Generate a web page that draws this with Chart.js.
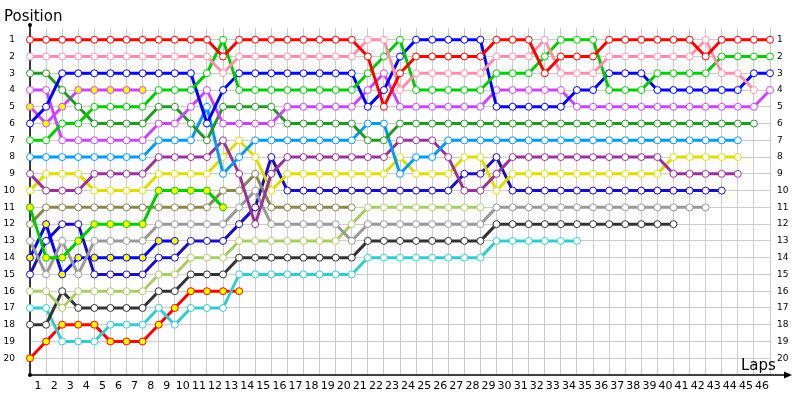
<!DOCTYPE html>
<html>
<head>
<meta charset="utf-8">
<script src="https://cdn.jsdelivr.net/npm/chart.js@4/dist/chart.umd.min.js"></script>
<style>
  html, body { margin: 0; padding: 0; background: #fff; }
  #wrap { width: 800px; height: 400px; }
</style>
</head>
<body>
<div id="wrap"><canvas id="lapChart"></canvas></div>
<script>
// Voltas (eixo x) e posições (eixo y)
const laps = [0,1,2,3,4,5,6,7,8,9,10,11,12,13,14,15,16,17,18,19,20,21,22,23,24,25,26,27,28,29,30,31,32,33,34,35,36,37,38,39,40,41,42,43,44,45,46];
const positions = [1,2,3,4,5,6,7,8,9,10,11,12,13,14,15,16,17,18,19,20];

// Posição de cada piloto por volta (índice = volta)
const red        = [1,1,1,1,1,1,1,1,1,1,1,1,2,1,1,1,1,1,1,1,1,2,5,3,2,2,2,2,2,1,1,1,3,2,2,2,1,1,1,1,1,1,2,1,1,1,1];
const pink       = [2,2,2,2,2,2,2,2,2,2,2,2,3,2,2,2,2,2,2,2,2,1,1,4,3,3,3,3,3,2,2,2,1,3,3,3,2,2,2,2,2,2,1,3,3,4];
const green      = [7,7,6,6,5,5,5,5,4,4,4,3,1,4,4,4,4,4,4,4,4,3,2,1,4,4,4,4,4,3,3,3,2,1,1,1,4,4,4,3,3,3,3,2,2,2,2];
const blue       = [6,5,3,3,3,3,3,3,3,3,3,6,4,3,3,3,3,3,3,3,3,5,4,2,1,1,1,1,1,5,5,5,5,5,4,4,3,3,3,4,4,4,4,4,4,3,3];
const magenta    = [4,4,7,7,7,7,7,7,6,6,5,4,6,6,6,6,5,5,5,5,5,4,3,5,5,5,5,5,5,4,4,4,4,4,5,5,5,5,5,5,5,5,5,5,5,5,4];
const darkGreen  = [3,3,4,5,6,6,6,6,5,5,6,7,5,5,5,5,6,6,6,6,6,7,7,6,6,6,6,6,6,6,6,6,6,6,6,6,6,6,6,6,6,6,6,6,6,6];
const magentaY   = [5,6,5,4,4,4,4,4];
const lightBlue  = [8,8,8,8,8,8,8,8,7,7,7,5,9,8,7,7,7,7,7,7,7,6,6,9,8,8,7,7,7,7,7,7,7,7,7,7,7,7,7,7,7,7,7,7,7];
const purple     = [9,10,10,10,9,9,9,9,8,8,8,8,7,9,12,9,8,8,8,8,8,8,8,7,7,7,8,10,10,9,8,8,8,8,8,8,8,8,8,8,9,9,9,9,9];
const yellow     = [10,9,9,9,10,10,10,10,9,9,9,9,8,7,8,10,9,9,9,9,9,9,9,8,9,9,9,8,8,10,9,9,9,9,9,9,9,9,9,9,8,8,8,8,8];
const greenY     = [11,14,14,13,12,12,12,12,10,10,10,10,11];
const olive      = [12,11,11,11,11,11,11,11,11,11,11,11,10,10,9,11,11,11,11,11,11];
const gray       = [13,15,13,15,13,13,13,13,12,12,12,12,12,11,10,12,12,12,12,12,13,12,12,12,12,12,12,12,12,11,11,11,11,11,11,11,11,11,11,11,11,11,11];
const blueY      = [14,12,15,14,14,14,14,14,13,13];
const darkBlue   = [15,13,12,12,15,15,15,15,14,14,13,13,13,12,11,8,10,10,10,10,10,10,10,10,10,10,10,9,9,8,10,10,10,10,10,10,10,10,10,10,10,10,10,10];
const lightGreen = [16,16,17,16,16,16,16,16,15,15,14,14,14,13,13,13,13,13,13,13,12,11,11,11,11,11,11,11,11];
const darkGray   = [18,18,16,17,17,17,17,17,16,16,15,15,15,14,14,14,14,14,14,14,14,13,13,13,13,13,13,13,13,12,12,12,12,12,12,12,12,12,12,12,12];
const cyan       = [17,17,19,19,19,18,18,18,17,18,17,17,17,15,15,15,15,15,15,15,15,14,14,14,14,14,14,14,14,13,13,13,13,13,13];
const redY       = [20,19,18,18,18,19,19,19,18,17,16,16,16,16];

// cor da linha / preenchimento do marcador
const drivers = [
  { data: red,        color: '#ff0000', fill: '#ffffff' },
  { data: pink,       color: '#ff8fab', fill: '#ffffff' },
  { data: green,      color: '#00cc00', fill: '#ffffff' },
  { data: blue,       color: '#0000ff', fill: '#ffffff' },
  { data: magenta,    color: '#cc44ff', fill: '#ffffff' },
  { data: darkGreen,  color: '#229922', fill: '#ffffff' },
  { data: magentaY,   color: '#cc44ff', fill: '#ffff00' },
  { data: lightBlue,  color: '#0099ff', fill: '#ffffff' },
  { data: purple,     color: '#993399', fill: '#ffffff' },
  { data: yellow,     color: '#dddd00', fill: '#ffffff' },
  { data: greenY,     color: '#00cc00', fill: '#ffff00' },
  { data: olive,      color: '#888850', fill: '#ffffff' },
  { data: gray,       color: '#999999', fill: '#ffffff' },
  { data: blueY,      color: '#0000ff', fill: '#ffff00' },
  { data: darkBlue,   color: '#1a0dbf', fill: '#ffffff' },
  { data: lightGreen, color: '#aacc66', fill: '#ffffff' },
  { data: darkGray,   color: '#333333', fill: '#ffffff' },
  { data: cyan,       color: '#33cccc', fill: '#ffffff' },
  { data: redY,       color: '#ff0000', fill: '#ffff00' }
];

const tickFont = { family: "'DejaVu Sans', sans-serif", size: 11 };
const sideFont = { family: "'DejaVu Sans', sans-serif", size: 9 };

// Eixos desenhados à mão: seta, pontos e títulos
const axisDecor = {
  id: 'axisDecor',
  beforeDatasetsDraw(chart) {
    const { ctx, chartArea: a } = chart;
    ctx.save();
    ctx.strokeStyle = '#000';
    ctx.fillStyle = '#000';
    ctx.lineWidth = 1.5;
    ctx.beginPath();
    ctx.moveTo(a.left, 25);
    ctx.lineTo(a.left, a.bottom);
    ctx.lineTo(788, a.bottom);
    ctx.stroke();
    ctx.beginPath();
    ctx.moveTo(784, a.bottom - 3.5);
    ctx.lineTo(792, a.bottom);
    ctx.lineTo(784, a.bottom + 3.5);
    ctx.closePath();
    ctx.fill();
    ctx.beginPath();
    ctx.arc(a.left, 25, 2, 0, Math.PI * 2);
    ctx.arc(a.left, a.bottom, 2, 0, Math.PI * 2);
    ctx.fill();
    ctx.restore();
  },
  afterDraw(chart) {
    const { ctx, chartArea: a } = chart;
    ctx.save();
    ctx.fillStyle = '#000';
    ctx.font = "15px 'DejaVu Sans', sans-serif";
    ctx.textBaseline = 'alphabetic';
    ctx.textAlign = 'left';
    ctx.fillText('Position', 4, 21);
    ctx.fillText('Laps', 741, a.bottom - 5);
    ctx.restore();
  }
};

const yTicks = scale => { scale.ticks = positions.map(v => ({ value: v })); };

new Chart(document.getElementById('lapChart'), {
  type: 'line',
  data: {
    labels: laps,
    datasets: drivers.map(d => ({
      data: d.data,
      borderColor: d.color,
      borderWidth: 3,
      pointRadius: 3.5,
      pointBorderWidth: 1,
      pointBorderColor: d.color,
      pointBackgroundColor: d.fill,
      tension: 0,
      fill: false,
      clip: false
    }))
  },
  options: {
    responsive: true,
    maintainAspectRatio: false,
    animation: false,
    layout: { padding: { top: 28, left: 0, right: 0, bottom: 0 } },
    plugins: { legend: { display: false }, tooltip: { enabled: false } },
    scales: {
      x: {
        type: 'linear',
        min: 0,
        max: 46,
        afterBuildTicks: scale => { scale.ticks = laps.map(v => ({ value: v })); },
        afterFit: scale => { scale.height = 25; },
        grid: { color: '#cccccc', drawTicks: false },
        border: { display: false },
        ticks: {
          autoSkip: false,
          maxRotation: 0,
          padding: 5,
          labelOffset: -8,
          color: '#000',
          font: tickFont,
          callback: v => (v === 0 ? '' : String(v))
        }
      },
      y: {
        type: 'linear',
        position: 'left',
        reverse: true,
        min: 0.3,
        max: 21,
        afterBuildTicks: yTicks,
        afterFit: scale => { scale.width = 30; },
        grid: { color: '#cccccc', drawTicks: false },
        border: { display: false },
        ticks: { padding: 15, color: '#000', font: sideFont }
      },
      y2: {
        type: 'linear',
        position: 'right',
        reverse: true,
        min: 0.3,
        max: 21,
        afterBuildTicks: yTicks,
        afterFit: scale => { scale.width = 30; },
        grid: { display: false, drawTicks: false },
        border: { display: false },
        ticks: { padding: 7, color: '#000', font: sideFont }
      }
    }
  },
  plugins: [axisDecor]
});
</script>
</body>
</html>
